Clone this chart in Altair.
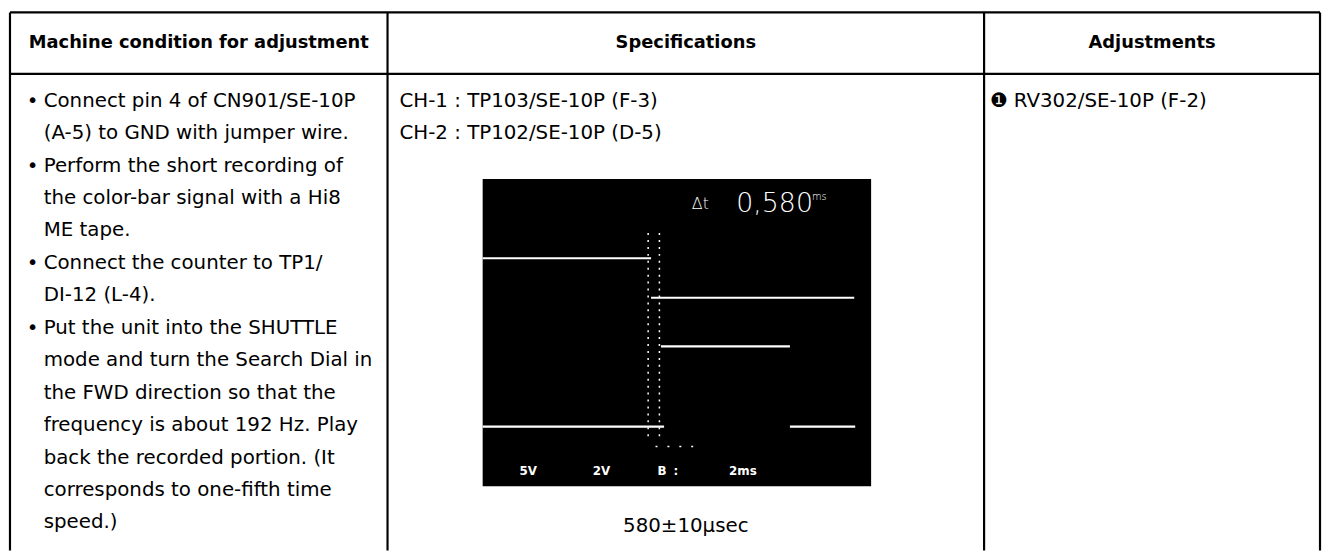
import altair as alt
import pandas as pd

# ---------------- table content ----------------
headers = ["Machine condition for adjustment", "Specifications", "Adjustments"]
col_edges = [5, 386, 988, 1327]          # table column borders
row_edges = [10, 72]                     # header top / header bottom
table_bottom = 553

cond_items = [
    ["Connect pin 4 of CN901/SE-10P", "(A-5) to GND with jumper wire."],
    ["Perform the short recording of", "the color-bar signal with a Hi8", "ME tape."],
    ["Connect the counter to TP1/", "DI-12 (L-4)."],
    ["Put the unit into the SHUTTLE", "mode and turn the Search Dial in",
     "the FWD direction so that the", "frequency is about 192 Hz. Play",
     "back the recorded portion. (It", "corresponds to one-fifth time", "speed.)"],
]
spec_lines = ["CH-1 : TP103/SE-10P (F-3)", "CH-2 : TP102/SE-10P (D-5)"]
spec_note = "580±10μsec"
adjust_marker = "❶"
adjust_lines = ["RV302/SE-10P (F-2)"]

# ---------------- oscilloscope trace (2 ms/div, 2 V/div) ----------------
scope_time = [0, 20]       # ms
scope_volt = [-8, 8]       # V
seg_channel = ["CH1", "CH1", "CH2", "CH2", "CH2"]
seg_start = [0.0, 8.67, 0.0, 9.18, 15.82]
seg_end = [8.67, 19.13, 9.34, 15.82, 19.18]
seg_level = [3.87, 1.81, -4.90, -0.72, -4.90]
cursor_t = [8.52, 9.10]
cursor_v = [-5.4, 5.3]
readout_text = ["Δt", "0,580", "ms"]
readout_t = [10.77, 13.06, 16.95]
readout_v = [6.71, 6.71, 7.05]
readout_size = [16, 27, 10]
status_text = ["5V", "2V", "B", ":", "2ms"]
status_t = [2.35, 6.12, 9.23, 9.95, 13.4]
status_v = [-7.23, -7.23, -7.23, -7.23, -7.23]

# ---------------- layout constants ----------------
FIRST_LINE = 99
LINE_GAP = 32.75
BODY_FONT = "DejaVu Sans"
BODY_SIZE = 20
HEAD_SIZE = 18

# plot area sits at page offset 8px
X = lambda f: alt.X(f, scale=alt.Scale(domain=[8, 1322], nice=False, zero=False), axis=None)
Y = lambda f: alt.Y(f, scale=alt.Scale(domain=[8, 545], reverse=True, nice=False, zero=False), axis=None)

# --- table rules
rules = []
for cx in col_edges:
    rules.append({"x": cx, "x2": cx, "y": row_edges[0], "y2": table_bottom})
for ry in row_edges:
    rules.append({"x": col_edges[0], "x2": col_edges[-1], "y": ry, "y2": ry})
rules_df = pd.DataFrame(rules)
rules_layer = alt.Chart(rules_df).mark_rule(color="#000", strokeWidth=2.2).encode(
    x=X("x:Q"), x2="x2:Q", y=Y("y:Q"), y2="y2:Q")

# --- headers
hdr_df = pd.DataFrame({
    "text": headers,
    "x": [(col_edges[i] + col_edges[i + 1]) / 2 for i in range(3)],
    "y": [(row_edges[0] + row_edges[1]) / 2] * 3,
})
hdr_layer = alt.Chart(hdr_df).mark_text(
    font=BODY_FONT, fontSize=HEAD_SIZE, fontWeight="bold", color="#000",
    align="center", baseline="middle").encode(x=X("x:Q"), y=Y("y:Q"), text="text:N")

# --- body text
rows = []
bullets = []
i = 0
for item in cond_items:
    for j, line in enumerate(item):
        y = FIRST_LINE + i * LINE_GAP
        rows.append({"text": line, "x": 39, "y": y})
        if j == 0:
            bullets.append({"text": "•", "x": 22, "y": y})
        i += 1
for k, line in enumerate(spec_lines):
    rows.append({"text": line, "x": 398, "y": FIRST_LINE + k * LINE_GAP})
for k, line in enumerate(adjust_lines):
    rows.append({"text": line, "x": 1018, "y": FIRST_LINE + k * LINE_GAP})
body_df = pd.DataFrame(rows)
body_layer = alt.Chart(body_df).mark_text(
    font=BODY_FONT, fontSize=BODY_SIZE, color="#000", align="left", baseline="middle"
).encode(x=X("x:Q"), y=Y("y:Q"), text="text:N")

bullet_df = pd.DataFrame(bullets + [{"text": adjust_marker, "x": 994, "y": FIRST_LINE}])
bullet_layer = alt.Chart(bullet_df).mark_text(
    font=BODY_FONT, fontSize=BODY_SIZE, color="#000", align="left", baseline="middle"
).encode(x=X("x:Q"), y=Y("y:Q"), text="text:N")

note_df = pd.DataFrame({"text": [spec_note],
                        "x": [(col_edges[1] + col_edges[2]) / 2], "y": [528]})
note_layer = alt.Chart(note_df).mark_text(
    font=BODY_FONT, fontSize=BODY_SIZE, color="#000", align="center", baseline="middle"
).encode(x=X("x:Q"), y=Y("y:Q"), text="text:N")

# ---------------- scope layers (own scales) ----------------
TS = alt.Scale(domain=scope_time, range=[474, 866], nice=False, zero=False)
VS = alt.Scale(domain=scope_volt, range=[480, 170], nice=False, zero=False)

screen_df = pd.DataFrame({"t0": [scope_time[0]], "t1": [scope_time[1]],
                          "v0": [scope_volt[0]], "v1": [scope_volt[1]]})
screen = alt.Chart(screen_df).mark_rect(color="#000").encode(
    x=alt.X("t0:Q", scale=TS, axis=None), x2="t1:Q",
    y=alt.Y("v0:Q", scale=VS, axis=None), y2="v1:Q")

seg_df = pd.DataFrame({"ch": seg_channel, "t0": seg_start, "t1": seg_end, "v": seg_level})
traces = alt.Chart(seg_df).mark_rule(color="#fff", strokeWidth=2.2).encode(
    x=alt.X("t0:Q", scale=TS, axis=None), x2="t1:Q",
    y=alt.Y("v:Q", scale=VS, axis=None))

cur_df = pd.DataFrame({"t": cursor_t, "v0": [cursor_v[0]] * 2, "v1": [cursor_v[1]] * 2})
cursors = alt.Chart(cur_df).mark_rule(color="#fff", strokeWidth=1.5, strokeDash=[2, 5]).encode(
    x=alt.X("t:Q", scale=TS, axis=None),
    y=alt.Y("v0:Q", scale=VS, axis=None), y2="v1:Q")

mark_df = pd.DataFrame({"t0": [8.9], "t1": [11.0], "v": [-5.94]})
marker = alt.Chart(mark_df).mark_rule(color="#fff", strokeWidth=1.5, strokeDash=[2, 10]).encode(
    x=alt.X("t0:Q", scale=TS, axis=None), x2="t1:Q",
    y=alt.Y("v:Q", scale=VS, axis=None))

ro_df = pd.DataFrame({"text": readout_text, "t": readout_t, "v": readout_v, "s": readout_size})
readout = alt.Chart(ro_df).mark_text(
    font="DejaVu Sans", fontWeight=300, color="#fff", align="left", baseline="middle"
).encode(x=alt.X("t:Q", scale=TS, axis=None), y=alt.Y("v:Q", scale=VS, axis=None),
         text="text:N", size=alt.Size("s:Q", scale=None, legend=None))

st_df = pd.DataFrame({"text": status_text, "t": status_t, "v": status_v})
status = alt.Chart(st_df).mark_text(
    font="DejaVu Sans", fontSize=12, fontWeight="bold", color="#fff",
    align="center", baseline="middle"
).encode(x=alt.X("t:Q", scale=TS, axis=None), y=alt.Y("v:Q", scale=VS, axis=None),
         text="text:N")

chart = alt.layer(
    rules_layer, hdr_layer, body_layer, bullet_layer, note_layer,
    screen, traces, cursors, marker, readout, status,
).resolve_scale(x="independent", y="independent").properties(
    width=1314, height=537, padding=0, background="#ffffff"
).configure_view(stroke=None)

chart.save("out.html", embed_options={"renderer": "svg", "actions": False})
